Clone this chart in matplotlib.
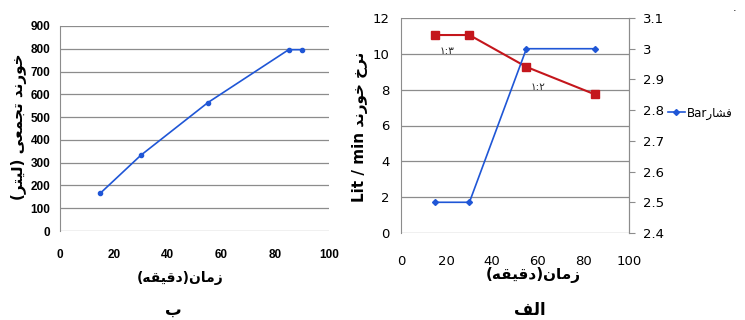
import matplotlib
matplotlib.use("Agg")
import matplotlib.pyplot as plt
import numpy as np

# ---- data ----
time_b = [15, 30, 55, 85, 90]          # minutes
cum_volume = [166, 332, 564, 796, 796]  # litres (cumulative)

time_a = [15, 30, 55, 85]
flow_rate = [11.05, 11.05, 9.27, 7.74]  # Lit / min
pressure = [2.5, 2.5, 3.0, 3.0]         # Bar

ratio_labels = ["\u06f1:\u06f3", "\u06f1:\u06f2"]
ratio_pos = [(20, 10.15), (60, 8.15)]

xticks = [0, 20, 40, 60, 80, 100]
b_yticks = list(range(0, 901, 100))
a_yticks = [0, 2, 4, 6, 8, 10, 12]
a_rticks = [2.4, 2.5, 2.6, 2.7, 2.8, 2.9, 3.0, 3.1]

# Persian strings written with presentation forms in display order
x_label = "(" + "\uFEEA\uFED8\uFBFF\uFED7\uFEA9" + ")" + "\uFEE5\uFE8E\uFEE3\uFEAF"
b_ylabel = ("(" + "\uFEAE\uFE98\uFBFF\uFEDF" + ")" + " " +
            "\uFBFD\uFECC\uFEE4\uFEA0\uFE97" + " " + "\uFEAA\uFEE7\uFEAD\uFEEE\uFEA7")
a_ylabel = "Lit / min " + "\uFEAA\uFEE7\uFEAD\uFEEE\uFEA7" + " " + "\uFEA5\uFEAE\uFEE7"
legend_label = "Bar" + "\uFEAD\uFE8E\uFEB8\uFED3"
cap_b = "\uFE8F"
cap_a = "\uFED2\uFEDF\uFE8D"

BLUE = "#1f56d6"
RED = "#c4161c"
GRID = "#8c8c8c"
AR = ["DejaVu Sans"]

fig = plt.figure(figsize=(7.45, 3.2), dpi=100)

# ---------- chart (b): cumulative volume ----------
axb = fig.add_axes([60 / 745, 1 - 231 / 320, 269 / 745, 205 / 320])
axb.plot(time_b, cum_volume, color=BLUE, lw=1.2, marker="o", ms=3)
axb.set_xlim(0, 100)
axb.set_ylim(0, 900)
axb.set_xticks(xticks)
axb.set_yticks(b_yticks)
axb.grid(axis="y", color=GRID, lw=0.9)
axb.set_axisbelow(True)
for s in ["top", "right", "bottom"]:
    axb.spines[s].set_visible(False)
axb.spines["left"].set_color(GRID)
axb.tick_params(length=0, labelsize=8.5, pad=7)
axb.tick_params(axis="x", pad=13)
for lab in axb.get_xticklabels() + axb.get_yticklabels():
    lab.set_fontweight("bold")
    lab.set_fontfamily("Liberation Sans")
fig.text(19 / 745, 1 - 127 / 320, b_ylabel, rotation=90, ha="center", va="center",
         fontsize=11, fontweight="bold", family=AR)
fig.text(180 / 745, 1 - 278 / 320, x_label, ha="center", va="center",
         fontsize=10, fontweight="bold", family=AR)
fig.text(173 / 745, 1 - 310 / 320, cap_b, ha="center", va="center",
         fontsize=12, fontweight="bold", family=AR)

# ---------- chart (a): flow rate and pressure ----------
axa = fig.add_axes([401 / 745, 1 - 233 / 320, 228 / 745, 215 / 320])
axa.plot(time_a, flow_rate, color=RED, lw=1.5, marker="s", ms=6)
axa.set_xlim(0, 100)
axa.set_ylim(0, 12)
axa.set_xticks(xticks)
axa.set_yticks(a_yticks)
axa.grid(axis="y", color=GRID, lw=0.9)
axa.set_axisbelow(True)
for s in ["top", "bottom"]:
    axa.spines[s].set_visible(False)
axa.spines["left"].set_color(GRID)
axa.spines["right"].set_color(GRID)
axa.tick_params(length=0, labelsize=9.5, pad=8)
axa.tick_params(axis="x", pad=16)
for txt, (px, py) in zip(ratio_labels, ratio_pos):
    axa.text(px, py, txt, ha="center", va="center", fontsize=7.5, family=AR,
             color="#222222")

axr = axa.twinx()
axr.plot(time_a, pressure, color=BLUE, lw=1.2, marker="D", ms=3,
         label=legend_label)
axr.set_ylim(2.4, 3.1)
axr.set_yticks(a_rticks)
axr.set_yticklabels([f"{v:g}" for v in a_rticks])
for s in ["top", "bottom", "left"]:
    axr.spines[s].set_visible(False)
axr.spines["right"].set_color(GRID)
axr.tick_params(axis="y", length=4, color=GRID, labelsize=9.5, pad=6)

fig.text(360 / 745, 1 - 127 / 320, a_ylabel, rotation=90, ha="center", va="center",
         fontsize=11, fontweight="bold", family=AR)
fig.text(533 / 745, 1 - 275 / 320, x_label, ha="center", va="center",
         fontsize=11, fontweight="bold", family=AR)
fig.text(530 / 745, 1 - 310 / 320, cap_a, ha="center", va="center",
         fontsize=12, fontweight="bold", family=AR)

leg = axr.legend(loc="center left", bbox_to_anchor=(668 / 745, 1 - 113 / 320),
                 bbox_transform=fig.transFigure, frameon=False,
                 handlelength=1.4, handletextpad=0.2, borderpad=0,
                 borderaxespad=0, prop={"family": AR, "size": 8.5})

fig.text(735 / 745, 1 - 8 / 320, ".", ha="center", va="center", fontsize=8)

fig.savefig("out.png", dpi=100)
